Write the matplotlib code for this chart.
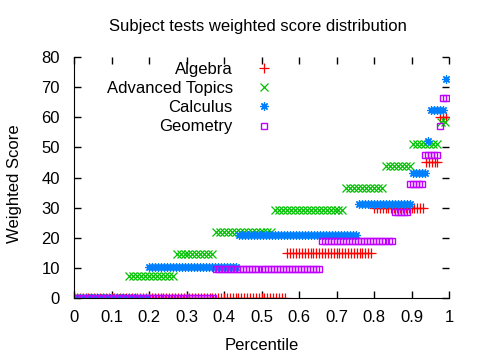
import numpy as np
import matplotlib
matplotlib.use("Agg")
import matplotlib.pyplot as plt

plt.rcParams['font.family'] = ['Liberation Sans', 'DejaVu Sans']

subjects = ["Algebra", "Advanced Topics", "Calculus", "Geometry"]

algebra_levels = [0, 15, 30, 45, 60]
algebra_counts = [74, 30, 18, 5, 3]

adv_levels = [0, 7.3, 14.6, 21.9, 29.2, 36.5, 43.8, 51.1, 58.4]
adv_counts = [14, 12, 10, 15, 18, 10, 7, 7, 2]

calc_levels = [0, 10.4, 20.8, 31.2, 41.6, 52.0, 62.4, 72.8]
calc_counts = [25, 30, 40, 18, 5, 1, 5, 1]

geom_levels = [0, 9.5, 19, 28.5, 38, 47.5, 57, 66.5]
geom_counts = [47, 35, 24, 5, 5, 5, 1, 2]

xticks = [0, 0.1, 0.2, 0.3, 0.4, 0.5, 0.6, 0.7, 0.8, 0.9, 1]
xticklabels = ["0", "0.1", "0.2", "0.3", "0.4", "0.5", "0.6", "0.7", "0.8", "0.9", "1"]
yticks = [0, 10, 20, 30, 40, 50, 60, 70, 80]

series = [
    (algebra_levels, algebra_counts, dict(marker='+', color='#ff0000', ms=7, mew=0.9)),
    (adv_levels, adv_counts, dict(marker='x', color='#00c000', ms=5.5, mew=0.9)),
    (calc_levels, calc_counts, dict(marker=(8, 2, 0), color='#0080ff', ms=6, mew=0.9)),
    (geom_levels, geom_counts, dict(marker='s', color='#c000ff', mfc='none', mec='#c000ff', ms=4.5, mew=1.0)),
]

fig = plt.figure(figsize=(4.8, 3.6), dpi=100)
ax = fig.add_axes([74/480, 1-298/360, (449-74)/480, (298-57)/360])

for name, (levels, counts, style) in zip(subjects, series):
    scores = np.repeat(levels, counts)
    n = len(scores)
    pct = np.arange(n) / n
    ax.plot(pct, scores, linestyle='none', label=name, **style)

ax.set_xlim(0, 1)
ax.set_ylim(0, 80)
ax.set_xticks(xticks)
ax.set_xticklabels(xticklabels)
ax.set_yticks(yticks)
ax.spines['top'].set_visible(False)
ax.spines['right'].set_visible(False)
ax.tick_params(direction='in', top=True, right=True, length=5, width=1,
               labelsize=12, pad=10, colors='black')
ax.tick_params(axis='x', pad=9)

leg = ax.legend(loc='upper right', bbox_to_anchor=(272/480, 1-62/360),
                bbox_transform=fig.transFigure, frameon=False, markerfirst=False,
                fontsize=12, handlelength=1.0, handletextpad=1.35, labelspacing=0.25,
                borderpad=0.0, borderaxespad=0.0)

fig.text(258/480, 1-27/360, "Subject tests weighted score distribution",
         ha='center', va='center', fontsize=12)
fig.text(262/480, 1-345/360, "Percentile", ha='center', va='center', fontsize=12)
fig.text(15/480, 1-184/360, "Weighted Score", ha='center', va='center',
         rotation=90, fontsize=12)

fig.savefig("out.png", dpi=100)
